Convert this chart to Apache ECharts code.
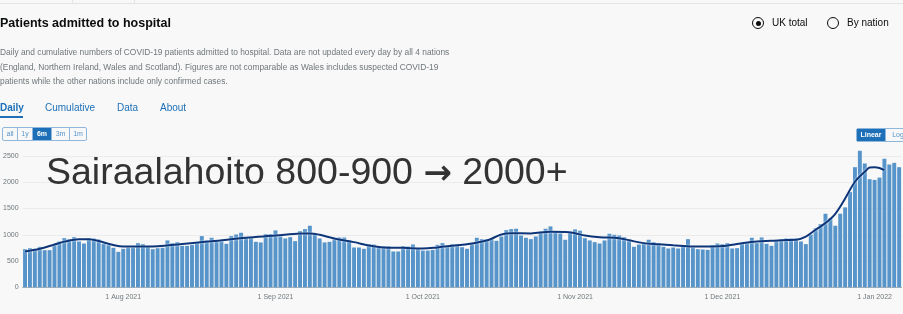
<!DOCTYPE html>
<html>
<head>
<meta charset="utf-8">
<title>Patients admitted to hospital</title>
<script src="https://cdn.jsdelivr.net/npm/echarts@6/dist/echarts.min.js"></script>
<style>
  html, body { margin: 0; padding: 0; background: #f8f8f8; font-family: Arial, "Liberation Sans", sans-serif; }
  #page { position: relative; width: 903px; height: 314px; overflow: hidden; }
  #chart { position: absolute; left: 0; top: 0; width: 903px; height: 314px; }
  .topline { position: absolute; left: 0; top: 3px; width: 903px; height: 1px; background: #e4e4e4; }
  .sep { position: absolute; top: 0; width: 1px; height: 3px; background: #e4e4e4; }
  .title { position: absolute; left: 0; top: 15px; line-height: 16px; font-size: 12.5px; font-weight: bold; color: #0b0c0c; }
  .desc { position: absolute; left: 0; top: 45px; white-space: nowrap; font-size: 8.4px; line-height: 14.5px; color: #6f777b; }
  .tab { position: absolute; top: 102px; line-height: 12px; font-size: 10px; color: #1d70b8; }
  .tab.active { font-weight: bold; }
  .tab-line { position: absolute; left: 0; top: 116px; width: 23px; height: 2px; background: #1d70b8; }
  .radio { position: absolute; top: 17px; width: 10px; height: 10px; border: 1.5px solid #0b0c0c; border-radius: 50%; }
  .radio .dot { position: absolute; left: 2.5px; top: 2.5px; width: 5px; height: 5px; border-radius: 50%; background: #0b0c0c; }
  .radio-label { position: absolute; top: 17px; line-height: 12px; font-size: 10px; color: #0b0c0c; }
  .btns { position: absolute; display: flex; border: 1px solid #8fb6dd; border-radius: 2px; height: 12px; }
  .btns span { font-size: 7px; line-height: 12px; color: #5694ca; text-align: center; border-left: 1px solid #8fb6dd; }
  .btns span:first-child { border-left: none; }
  .btns span.on { background: #1d70b8; color: #fff; font-weight: bold; }
  .note { position: absolute; left: 46px; top: 151px; font-size: 37.5px; line-height: 40px; color: #333; white-space: nowrap; }
  .note .arrow { font-family: "DejaVu Sans", sans-serif; font-weight: bold; font-size: 34px; }
</style>
</head>
<body>
<div id="page">
  <div id="chart"></div>
  <div class="topline"></div>
  <div class="sep" style="left:72px"></div>
  <div class="sep" style="left:134px"></div>

  <div class="title">Patients admitted to hospital</div>
  <div class="desc">Daily and cumulative numbers of COVID-19 patients admitted to hospital. Data are not updated every day by all 4 nations<br>(England, Northern Ireland, Wales and Scotland). Figures are not comparable as Wales includes suspected COVID-19<br>patients while the other nations include only confirmed cases.</div>

  <div class="tab active" style="left:0">Daily</div>
  <div class="tab-line"></div>
  <div class="tab" style="left:45px">Cumulative</div>
  <div class="tab" style="left:117px">Data</div>
  <div class="tab" style="left:160px">About</div>

  <div class="radio" style="left:752px"><div class="dot"></div></div>
  <div class="radio-label" style="left:772px">UK total</div>
  <div class="radio" style="left:827px"></div>
  <div class="radio-label" style="left:847px">By nation</div>

  <div class="btns" style="left:2px; top:127px">
    <span style="width:14px">all</span>
    <span style="width:14px">1y</span>
    <span class="on" style="width:18px">6m</span>
    <span style="width:17px">3m</span>
    <span style="width:16px">1m</span>
  </div>
  <div class="btns" style="left:856px; top:128px">
    <span class="on" style="width:28px">Linear</span>
    <span style="width:24px">Log</span>
  </div>

  <div class="note">Sairaalahoito 800-900 <span class="arrow">→</span> 2000+</div>
</div>

<script>
// first day shown (12 Jul 2021), one bar per day
const startDate = '2021-07-12'

// daily admissions, UK total
const admissions = [
  726, 745, 733, 771, 707, 707, 803, 873, 936, 917, 955, 873, 834, 936, 930, 911, 828, 803, 752, 675,
  733, 758, 758, 841, 822, 777, 726, 745, 752, 892, 841, 860, 790, 790, 809, 860, 975, 892, 943, 873,
  873, 828, 975, 1006, 1038, 943, 949, 866, 854, 1013, 1013,
  1083, 968, 930, 955, 879, 1070, 1108, 1172, 1032, 930, 854, 866, 917, 949, 949, 898, 758, 758, 733,
  822, 815, 784, 784, 784, 682, 682, 784, 777, 815, 745,
  700, 700, 713, 809, 841, 784, 822, 815, 764, 733, 834, 943, 917, 917, 924, 885, 968, 1089, 1108, 1115,
  987, 943, 917, 968, 1064, 1115, 1159, 1051, 1026, 905, 1057,
  1102, 1077, 936, 892, 860, 834, 892, 1019, 1000, 987, 955, 879, 771, 815, 834, 905, 860, 841, 771, 739,
  758, 739, 796, 917, 758, 726, 720, 713, 803, 834,
  822, 841, 739, 745, 828, 841, 943, 847, 949, 828, 790, 879, 917, 930, 930, 930, 873, 822, 1006, 1127,
  1204, 1401, 1319, 1172, 1401, 1522, 1815, 2287, 2599, 2357, 2058,
  2045, 2089, 2446, 2338, 2370, 2287
]

// 7-day average at these day indexes
const avgDays = [0, 3, 6, 8, 11, 13, 15, 18, 20, 22, 25, 32, 38, 45, 51, 56, 58, 60, 63, 67, 70, 73, 77, 81,
  84, 87, 90, 94, 97, 99, 103, 107, 110, 112, 114, 117, 121, 123, 126, 129, 132, 136, 139, 142, 146, 149,
  152, 155, 157, 159, 161, 163, 165, 167, 169, 171, 172, 173, 174, 175]
const avgValues = [680, 733, 815, 870, 917, 915, 880, 805, 777, 777, 775, 825, 875, 945, 985, 1024, 1026, 1000,
  930, 860, 796, 758, 752, 739, 760, 790, 820, 890, 1005, 1028, 1026, 1057, 1055, 1030, 985, 953, 936, 895,
  841, 820, 800, 777, 777, 785, 840, 873, 885, 900, 905, 965, 1096, 1223, 1400, 1690, 2010, 2200, 2280, 2285,
  2270, 2230]

const yTicks = [0, 500, 1000, 1500, 2000, 2500]
const monthNames = ['Jan', 'Feb', 'Mar', 'Apr', 'May', 'Jun', 'Jul', 'Aug', 'Sep', 'Oct', 'Nov', 'Dec']

const days = []
const t0 = Date.parse(startDate + 'T00:00:00Z')
for (let i = 0; i < admissions.length; i++) {
  days.push(new Date(t0 + i * 86400000).toISOString().slice(0, 10))
}

const isMonthStart = (index, value) => value.slice(8) === '01'
const fmtDate = (value) => {
  const p = value.split('-')
  return Number(p[2]) + ' ' + monthNames[Number(p[1]) - 1] + ' ' + p[0]
}

const chart = echarts.init(document.getElementById('chart'), null, { renderer: 'canvas' })
chart.setOption({
  animation: false,
  backgroundColor: 'transparent',
  grid: {
    left: 21.5,
    width: 880.1,
    top: 156,
    height: 131.3
  },
  xAxis: {
    type: 'category',
    data: days,
    boundaryGap: true,
    axisLine: { lineStyle: { color: '#b1b4b6', width: 1 } },
    axisTick: {
      alignWithLabel: true,
      interval: isMonthStart,
      length: 4,
      lineStyle: { color: '#6f777b' }
    },
    axisLabel: {
      interval: isMonthStart,
      formatter: fmtDate,
      fontSize: 7,
      color: '#6f777b',
      margin: 6
    }
  },
  yAxis: {
    type: 'value',
    min: yTicks[0],
    max: yTicks[yTicks.length - 1],
    interval: 500,
    axisLine: { show: false },
    axisTick: { show: false },
    axisLabel: { fontSize: 7, color: '#6f777b', margin: 4, formatter: (v) => String(v) },
    splitLine: { lineStyle: { color: '#ebebeb', width: 1 } }
  },
  series: [{
    name: 'Daily',
    type: 'bar',
    data: admissions,
    barCategoryGap: '20%',
    clip: false,
    itemStyle: { color: '#5694ca' }
  }, {
    name: '7-day average',
    type: 'line',
    data: avgDays.map((d, i) => [d, avgValues[i]]),
    smooth: 0.35,
    symbol: 'none',
    z: 5,
    lineStyle: {
      color: '#0d3578',
      width: 2,
      shadowColor: 'rgba(255,255,255,0.9)',
      shadowBlur: 2
    }
  }]
})
</script>
</body>
</html>
